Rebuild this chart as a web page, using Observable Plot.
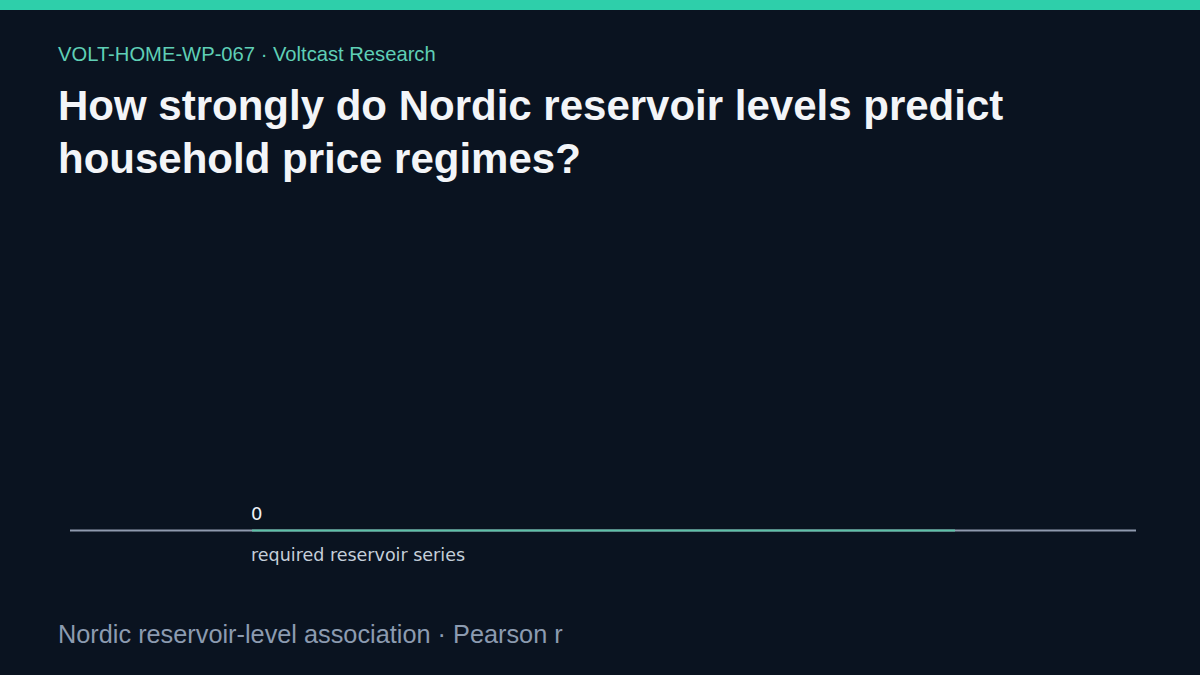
<!DOCTYPE html>
<html>
<head>
<meta charset="utf-8">
<script src="https://cdn.jsdelivr.net/npm/d3@7"></script>
<script src="https://cdn.jsdelivr.net/npm/@observablehq/plot@0.6"></script>
<style>
  html, body { margin: 0; padding: 0; }
  body { width: 1200px; height: 675px; overflow: hidden; background: #0a1320; position: relative; font-family: "Liberation Sans", Arial, sans-serif; }
  .topbar { position: absolute; left: 0; top: 0; width: 1200px; height: 10px; background: #2ecfaa; }
  .kicker { position: absolute; left: 58px; top: 44px; font-size: 20.2px; line-height: 20px; color: #5fcfb6; white-space: nowrap; }
  .title { position: absolute; left: 58px; top: 80px; width: 1084px; font-size: 42px; line-height: 52.5px; font-weight: bold; color: #f3f5f8; }
  #chart { position: absolute; left: 0; top: 200px; }
  .footer { position: absolute; left: 58px; top: 622px; font-size: 25.3px; line-height: 25px; color: #8c9bb0; white-space: nowrap; }
</style>
</head>
<body>
<div class="topbar"></div>
<div class="kicker">VOLT-HOME-WP-067 · Voltcast Research</div>
<div class="title">How strongly do Nordic reservoir levels predict household price regimes?</div>
<div id="chart"></div>
<div class="footer">Nordic reservoir-level association · Pearson r</div>
<script>
const categories = ["required reservoir series"];
const values = [0];

const data = categories.map((c, i) => ({category: c, value: values[i]}));

const chart = Plot.plot({
  width: 1200,
  height: 400,
  marginLeft: 70,
  marginRight: 64,
  marginTop: 20,
  marginBottom: 70,
  style: {background: "transparent", color: "#c5cfda", fontFamily: "'DejaVu Sans', sans-serif", fontSize: "17.5px"},
  x: {type: "band", domain: categories, padding: 0.205, axis: null},
  y: {domain: [0, 1], axis: null},
  marks: [
    Plot.ruleY([0], {stroke: "#8f9aae", strokeWidth: 2}),
    Plot.tickY(data, {x: "category", y: "value", stroke: "#5ec2a8", strokeWidth: 2}),
    Plot.text(data, {x: "category", y: "value", text: d => String(d.value), textAnchor: "start", dx: -353, dy: -16, fill: "#eef2f6", fontSize: 18}),
    Plot.axisX({tickSize: 0, tickPadding: 18, textAnchor: "start", dx: -353, fontSize: 17.5, fill: "#c5cfda", label: null})
  ]
});
document.getElementById("chart").appendChild(chart);
</script>
</body>
</html>
